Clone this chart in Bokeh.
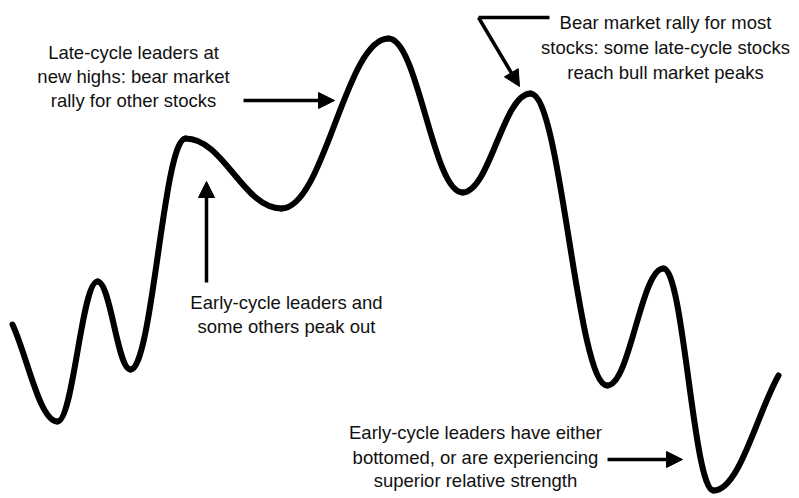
from bokeh.plotting import figure
from bokeh.models import Range1d, Arrow, NormalHead, ColumnDataSource
from bokeh.core.properties import value
from bokeh.embed import file_html
from bokeh.resources import INLINE

# Turning points of the schematic market curve (time, level); level = 498 - screen y
time_pts = [12, 57, 97, 130, 185, 281, 388, 462, 530, 607, 663, 713, 778]
level_pts = [174, 77, 217, 129, 360, 290, 460, 306, 405, 113, 230, 8, 123]

# Annotation texts
label_late = ["Late-cycle leaders at", "new highs: bear market", "rally for other stocks"]
label_bear = ["Bear market rally for most", "stocks: some late-cycle stocks", "reach bull market peaks"]
label_early = ["Early-cycle leaders and", "some others peak out"]
label_bottom = ["Early-cycle leaders have either", "bottomed, or are experiencing", "superior relative strength"]

W, H = 799, 498
p = figure(width=W, height=H, output_backend="svg", toolbar_location=None,
           x_range=Range1d(0, W), y_range=Range1d(0, H),
           min_border=0, outline_line_color=None)
p.axis.visible = False
p.grid.visible = False
p.background_fill_color = "white"
p.border_fill_color = "white"

# Smooth curve made of Bezier segments between consecutive turning points
k = 0.40
x0, y0, x1, y1, cx0, cy0, cx1, cy1 = [], [], [], [], [], [], [], []
n = len(time_pts)
for i in range(n - 1):
    ax, ay = time_pts[i], level_pts[i]
    bx, by = time_pts[i + 1], level_pts[i + 1]
    dx, dy = bx - ax, by - ay
    x0.append(ax); y0.append(ay); x1.append(bx); y1.append(by)
    if i == 0:
        cx0.append(ax + dx / 3); cy0.append(ay + dy / 3)
    else:
        cx0.append(ax + k * dx); cy0.append(ay)
    if i == n - 2:
        cx1.append(bx - dx / 3); cy1.append(by - dy / 3)
    else:
        cx1.append(bx - k * dx); cy1.append(by)
src = ColumnDataSource(dict(x0=x0, y0=y0, x1=x1, y1=y1, cx0=cx0, cy0=cy0, cx1=cx1, cy1=cy1))
p.bezier(x0="x0", y0="y0", x1="x1", y1="y1", cx0="cx0", cy0="cy0", cx1="cx1", cy1="cy1",
         source=src, line_color="black", line_width=6, line_cap="round")

def lbl(lines, xc, ys):
    p.text(x=[xc] * len(lines), y=ys, text=lines, text_align="center", text_baseline="middle",
           text_font=value("Liberation Sans"), text_font_size="18.5px", text_color="#111111")

lbl(label_late, 133, [498 - 52, 498 - 76, 498 - 100])
lbl(label_bear, 665, [498 - 22, 498 - 47, 498 - 72])
lbl(label_early, 286, [498 - 302, 498 - 326])
lbl(label_bottom, 475, [498 - 432, 498 - 457, 498 - 480])

def arrow(xs, ys, xe, ye):
    p.add_layout(Arrow(end=NormalHead(size=16, fill_color="black", line_color="black"),
                       x_start=xs, y_start=ys, x_end=xe, y_end=ye,
                       line_width=3.5, line_color="black"))

arrow(243, 498 - 100, 334, 498 - 100)
arrow(206, 498 - 282, 206, 498 - 181)
arrow(607, 498 - 459, 682, 498 - 459)
p.line([549, 478], [498 - 17, 498 - 17], line_width=3.5, line_color="black")
arrow(478, 498 - 17, 519, 498 - 86)

open("out.html", "w").write(file_html(p, INLINE))
